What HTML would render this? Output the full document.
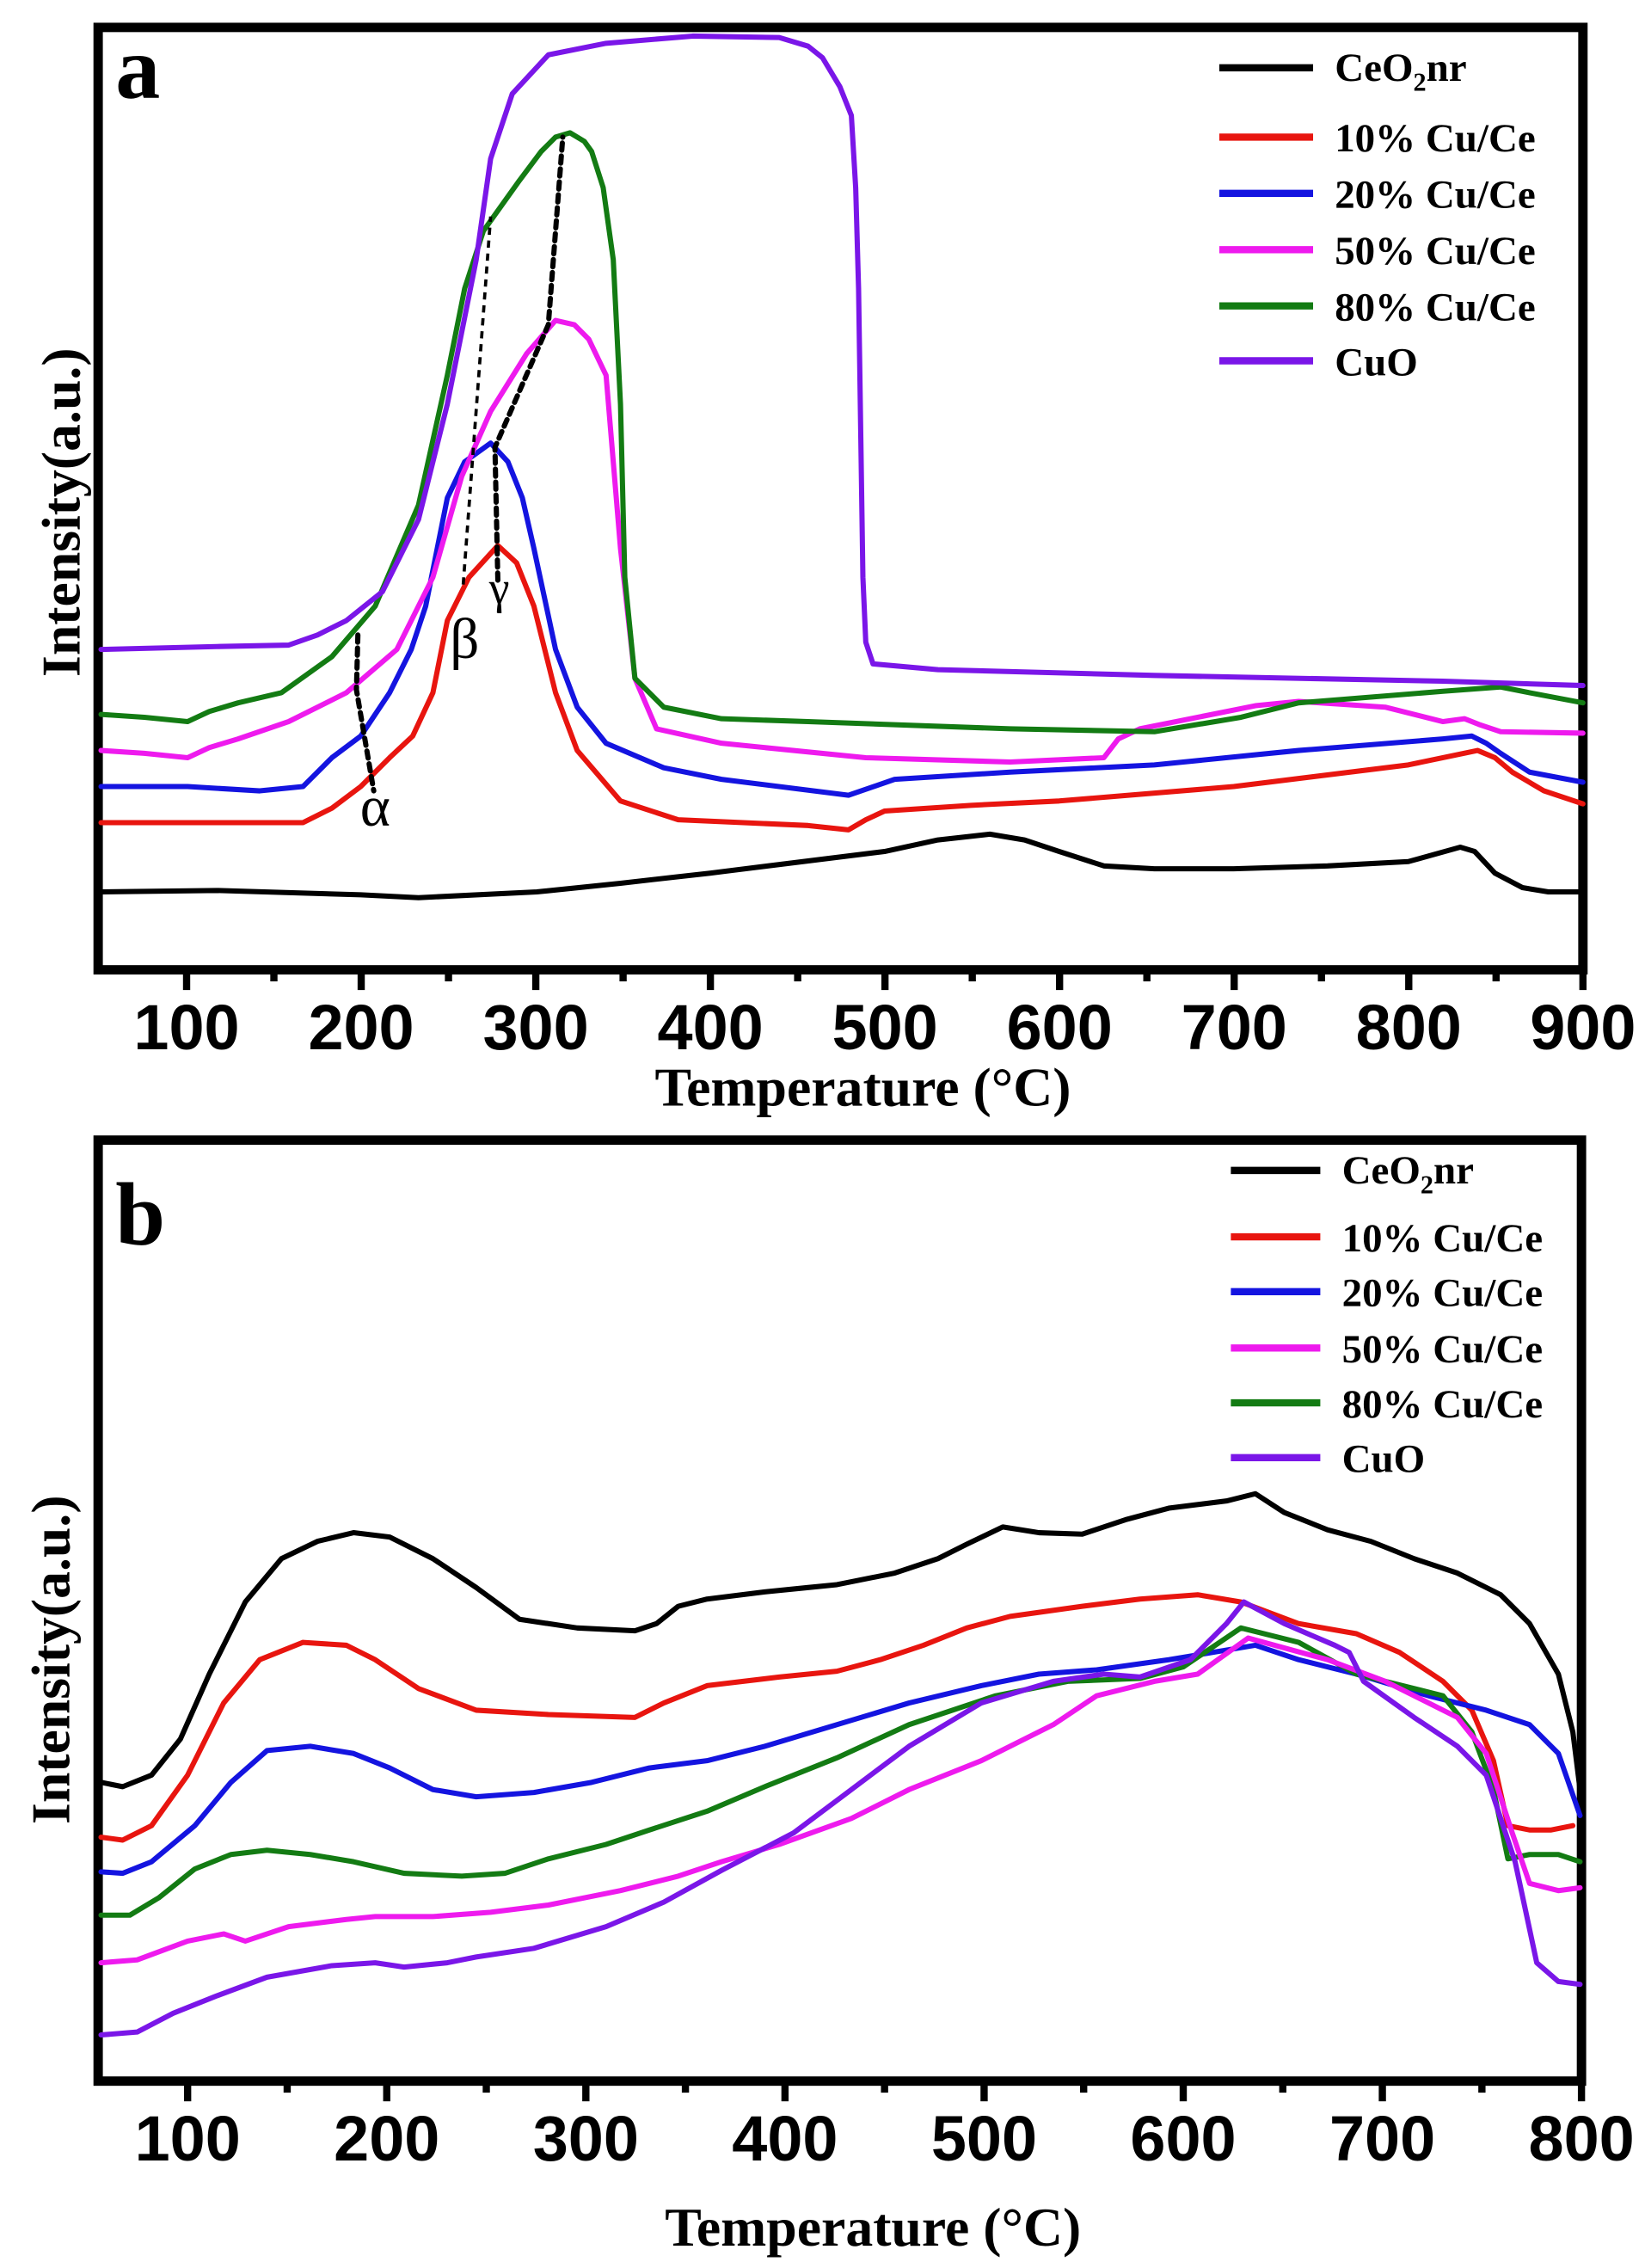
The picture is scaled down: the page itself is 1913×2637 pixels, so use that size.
<!DOCTYPE html>
<html><head><meta charset="utf-8"><style>
html,body{margin:0;padding:0;background:#fff;}
svg{display:block;}
.t{font-family:"Liberation Sans",Arial,sans-serif;font-weight:bold;font-size:44px;text-anchor:middle;}
.s{font-family:"Liberation Serif","Times New Roman",serif;font-weight:bold;}
.leg{font-size:28px;}
polyline{fill:none;stroke-width:3.6;stroke-linejoin:round;stroke-linecap:round;}
</style></head><body>
<svg width="1913" height="2637" viewBox="0 0 1140 1571.5" xmlns="http://www.w3.org/2000/svg">
<!-- Panel a -->
<rect x="68" y="19" width="1029" height="653" fill="none" stroke="#000" stroke-width="6.5"/>
<g stroke="#000" stroke-width="5">
<line x1="129.3" y1="672" x2="129.3" y2="686"/><line x1="250.3" y1="672" x2="250.3" y2="686"/><line x1="371.3" y1="672" x2="371.3" y2="686"/><line x1="492.3" y1="672" x2="492.3" y2="686"/><line x1="613.3" y1="672" x2="613.3" y2="686"/><line x1="734.3" y1="672" x2="734.3" y2="686"/><line x1="855.3" y1="672" x2="855.3" y2="686"/><line x1="976.3" y1="672" x2="976.3" y2="686"/><line x1="1097" y1="672" x2="1097" y2="686"/>
<line x1="189.8" y1="672" x2="189.8" y2="680"/><line x1="310.8" y1="672" x2="310.8" y2="680"/><line x1="431.8" y1="672" x2="431.8" y2="680"/><line x1="552.8" y1="672" x2="552.8" y2="680"/><line x1="673.8" y1="672" x2="673.8" y2="680"/><line x1="794.8" y1="672" x2="794.8" y2="680"/><line x1="915.8" y1="672" x2="915.8" y2="680"/><line x1="1036.8" y1="672" x2="1036.8" y2="680"/>
</g>
<g class="t">
<text x="129.3" y="727">100</text><text x="250.3" y="727">200</text><text x="371.3" y="727">300</text><text x="492.3" y="727">400</text><text x="613.3" y="727">500</text><text x="734.3" y="727">600</text><text x="855.3" y="727">700</text><text x="976.3" y="727">800</text><text x="1097" y="727">900</text>
</g>
<text class="s" x="598" y="766" font-size="38" text-anchor="middle">Temperature (°C)</text>
<text class="s" x="0" y="0" font-size="38" text-anchor="middle" transform="translate(55,355) rotate(-90)">Intensity(a.u.)</text>
<text class="s" x="80" y="68" font-size="62">a</text>

<polyline stroke="#000" points="70,618 150,617 250,620 290,622 372,618 430,612 492,605 613,590 650,582 686,578 710,582 734,590 765,600 800,602 855,602 920,600 976,597 1012,587 1022,590 1036,605 1055,615 1073,618 1097,618"/>
<polyline stroke="#e8150f" points="70,570 210,570 230,560 250,545 270,525 286,510 300,480 310,430 325,400 345,378 358,390 370,420 385,480 400,520 430,555 470,568 560,572 588,575 600,568 613,562 673,558 734,555 855,545 976,530 1024,520 1036,525 1048,535 1070,548 1097,557"/>
<polyline stroke="#1414e0" points="70,545 130,545 180,548 210,545 230,525 250,510 270,480 285,450 295,420 310,345 322,320 340,307 352,320 362,345 370,380 385,450 400,490 420,515 460,532 500,540 588,551 620,540 700,535 800,530 900,520 1000,512 1020,510 1030,515 1040,522 1060,535 1097,542"/>
<polyline stroke="#ee1aee" points="70,520 100,522 130,525 145,518 165,512 200,500 240,480 275,450 300,400 320,330 340,285 365,245 385,222 398,225 408,235 420,260 425,320 430,380 440,470 455,505 500,515 600,525 700,528 765,525 775,512 790,505 840,495 870,489 900,486 930,488 960,490 1000,500 1015,498 1025,502 1040,507 1097,508"/>
<polyline stroke="#137b13" points="70,495 100,497 130,500 145,493 165,487 195,480 230,455 260,420 290,350 310,260 322,200 335,160 360,125 375,105 385,95 395,92 405,98 410,105 418,130 425,180 430,280 433,400 440,470 460,490 500,498 560,500 700,505 800,507 860,497 900,487 1000,479 1040,476 1060,480 1097,487"/>
<polyline stroke="#7a16e8" points="70,450 150,448 200,447 220,440 240,430 265,410 290,360 310,280 330,180 340,110 355,65 380,38 420,30 480,25 540,26 560,32 570,40 582,60 590,80 593,130 595,200 598,400 600,445 605,460 650,464 800,468 1000,472 1097,475"/>
<g stroke="#000" stroke-width="2.2" stroke-dasharray="5,4" fill="none">
<polyline points="248,440 247,478 259,548"/>
<line x1="321" y1="405" x2="340" y2="150"/>
<polyline points="345,402 343,310 380,225 390,95"/>
</g>
<text x="260" y="572" font-family="Liberation Serif,serif" font-size="40" text-anchor="middle">α</text>
<text x="322" y="456" font-family="Liberation Serif,serif" font-size="40" text-anchor="middle">β</text>
<text x="346" y="418" font-family="Liberation Serif,serif" font-size="32" text-anchor="middle">γ</text>
<g stroke-width="5">
<line x1="845" y1="47" x2="910" y2="47" stroke="#000"/>
<line x1="845" y1="95" x2="910" y2="95" stroke="#e8150f"/>
<line x1="845" y1="134" x2="910" y2="134" stroke="#1414e0"/>
<line x1="845" y1="173" x2="910" y2="173" stroke="#ee1aee"/>
<line x1="845" y1="212" x2="910" y2="212" stroke="#137b13"/>
<line x1="845" y1="250" x2="910" y2="250" stroke="#7a16e8"/>
</g>
<g class="s leg">
<text x="925" y="56">CeO<tspan font-size="18" dy="7">2</tspan><tspan dy="-7">nr</tspan></text>
<text x="925" y="105">10% Cu/Ce</text>
<text x="925" y="144">20% Cu/Ce</text>
<text x="925" y="183">50% Cu/Ce</text>
<text x="925" y="222">80% Cu/Ce</text>
<text x="925" y="260">CuO</text>
</g>

<!-- Panel b -->
<rect x="68" y="790" width="1028" height="652" fill="none" stroke="#000" stroke-width="6.5"/>
<g stroke="#000" stroke-width="5">
<line x1="130" y1="1442" x2="130" y2="1456"/><line x1="268" y1="1442" x2="268" y2="1456"/><line x1="406" y1="1442" x2="406" y2="1456"/><line x1="544" y1="1442" x2="544" y2="1456"/><line x1="682" y1="1442" x2="682" y2="1456"/><line x1="820" y1="1442" x2="820" y2="1456"/><line x1="958" y1="1442" x2="958" y2="1456"/><line x1="1096" y1="1442" x2="1096" y2="1456"/>
<line x1="199" y1="1442" x2="199" y2="1450"/><line x1="337" y1="1442" x2="337" y2="1450"/><line x1="475" y1="1442" x2="475" y2="1450"/><line x1="613" y1="1442" x2="613" y2="1450"/><line x1="751" y1="1442" x2="751" y2="1450"/><line x1="889" y1="1442" x2="889" y2="1450"/><line x1="1027" y1="1442" x2="1027" y2="1450"/>
</g>
<g class="t">
<text x="130" y="1497">100</text><text x="268" y="1497">200</text><text x="406" y="1497">300</text><text x="544" y="1497">400</text><text x="682" y="1497">500</text><text x="820" y="1497">600</text><text x="958" y="1497">700</text><text x="1096" y="1497">800</text>
</g>
<text class="s" x="605" y="1556" font-size="38" text-anchor="middle">Temperature (°C)</text>
<text class="s" x="0" y="0" font-size="38" text-anchor="middle" transform="translate(48,1150) rotate(-90)">Intensity(a.u.)</text>
<text class="s" x="80" y="862" font-size="62">b</text>

<polyline stroke="#000" points="70,1235 85,1238 105,1230 125,1205 145,1160 170,1110 195,1080 220,1068 245,1062 270,1065 300,1080 330,1100 360,1122 400,1128 440,1130 455,1125 470,1113 490,1108 530,1103 560,1100 580,1098 620,1090 650,1080 670,1070 695,1058 720,1062 750,1063 780,1053 810,1045 850,1040 870,1035 890,1048 920,1060 950,1068 980,1080 1010,1090 1040,1105 1060,1125 1080,1160 1090,1200 1095,1240"/>
<polyline stroke="#e8150f" points="70,1273 85,1275 105,1265 130,1230 155,1180 180,1150 210,1138 240,1140 260,1150 290,1170 330,1185 380,1188 440,1190 460,1180 490,1168 540,1162 580,1158 610,1150 640,1140 670,1128 700,1120 750,1113 790,1108 830,1105 860,1110 900,1125 940,1132 970,1145 1000,1165 1020,1185 1035,1220 1045,1265 1060,1268 1075,1268 1090,1265"/>
<polyline stroke="#1414e0" points="70,1297 85,1298 105,1290 135,1265 160,1235 185,1213 215,1210 245,1215 270,1225 300,1240 330,1245 370,1242 410,1235 450,1225 490,1220 530,1210 580,1195 630,1180 680,1168 720,1160 760,1157 810,1150 870,1140 900,1150 940,1160 990,1175 1030,1185 1060,1195 1080,1215 1095,1258"/>
<polyline stroke="#137b13" points="70,1327 90,1327 110,1315 135,1295 160,1285 185,1282 215,1285 245,1290 280,1298 320,1300 350,1298 380,1288 420,1278 450,1268 490,1255 530,1238 580,1218 630,1195 690,1175 740,1165 790,1163 820,1155 860,1128 900,1138 940,1160 1000,1175 1020,1200 1035,1240 1045,1288 1060,1285 1080,1285 1095,1290"/>
<polyline stroke="#ee1aee" points="70,1360 95,1358 130,1345 155,1340 170,1345 200,1335 240,1330 260,1328 300,1328 340,1325 380,1320 430,1310 470,1300 500,1290 540,1278 590,1260 630,1240 680,1220 730,1195 760,1175 800,1165 830,1160 865,1135 920,1150 960,1165 1010,1190 1030,1215 1048,1270 1060,1305 1080,1310 1095,1308"/>
<polyline stroke="#7a16e8" points="70,1410 95,1408 120,1395 150,1383 185,1370 230,1362 260,1360 280,1363 310,1360 330,1356 370,1350 420,1335 460,1318 500,1296 550,1270 590,1240 630,1210 680,1180 730,1165 765,1160 790,1162 825,1150 850,1125 862,1110 890,1125 925,1140 935,1145 945,1165 980,1190 1010,1210 1030,1230 1050,1290 1065,1360 1080,1373 1095,1375"/>
<g stroke-width="5">
<line x1="853" y1="811" x2="915" y2="811" stroke="#000"/>
<line x1="853" y1="857" x2="915" y2="857" stroke="#e8150f"/>
<line x1="853" y1="895" x2="915" y2="895" stroke="#1414e0"/>
<line x1="853" y1="934" x2="915" y2="934" stroke="#ee1aee"/>
<line x1="853" y1="972" x2="915" y2="972" stroke="#137b13"/>
<line x1="853" y1="1010" x2="915" y2="1010" stroke="#7a16e8"/>
</g>
<g class="s leg">
<text x="930" y="820">CeO<tspan font-size="18" dy="7">2</tspan><tspan dy="-7">nr</tspan></text>
<text x="930" y="867">10% Cu/Ce</text>
<text x="930" y="905">20% Cu/Ce</text>
<text x="930" y="944">50% Cu/Ce</text>
<text x="930" y="982">80% Cu/Ce</text>
<text x="930" y="1020">CuO</text>
</g>
</svg>
</body></html>
